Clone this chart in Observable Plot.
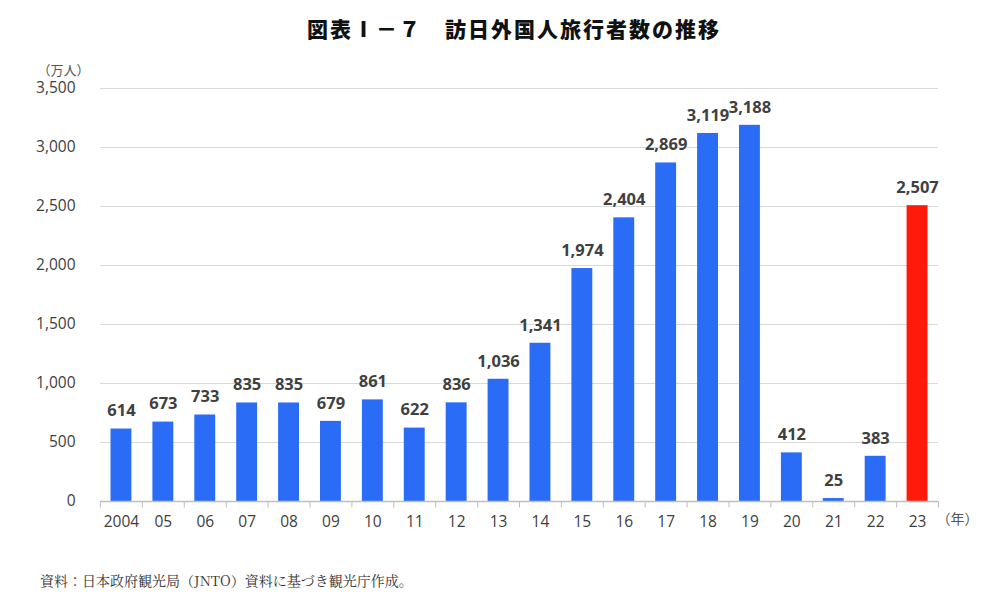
<!DOCTYPE html>
<html><head><meta charset="utf-8">
<script src="https://cdn.jsdelivr.net/npm/d3@7"></script>
<script src="https://cdn.jsdelivr.net/npm/@observablehq/plot@0.6"></script>
<style>
body{margin:0;background:#fff;font-family:"Noto Sans CJK JP","Noto Sans",sans-serif;}
#wrap{position:relative;width:1000px;height:608px;}
#title{position:absolute;left:14px;top:13px;width:1000px;text-align:center;font-size:21px;font-weight:900;color:#111;letter-spacing:2px;}
#chart{position:absolute;left:0;top:58px;}
#caption{position:absolute;left:40px;top:570px;font-family:"Noto Serif CJK JP","Noto Sans CJK JP",serif;font-size:14px;color:#333;}
</style></head>
<body><div id="wrap">
<div id="title">図表Ⅰ－７　訪日外国人旅行者数の推移</div>
<div id="chart"></div>
<div id="caption">資料：日本政府観光局（JNTO）資料に基づき観光庁作成。</div>
</div>
<script>
const years = ["2004","05","06","07","08","09","10","11","12","13","14","15","16","17","18","19","20","21","22","23"];
const visitors = [614,673,733,835,835,679,861,622,836,1036,1341,1974,2404,2869,3119,3188,412,25,383,2507];
const highlight = ["23"];
const yTicks = [0,500,1000,1500,2000,2500,3000,3500];

const data = years.map((y,i)=>({year:y, value:visitors[i], hi: highlight.includes(y)}));
const fmt = d3.format(",");
const half = (1000-100-62)/years.length/2;
const chart = Plot.plot({
  width:1000, height:500,
  marginTop:30, marginBottom:57, marginLeft:100, marginRight:62,
  style:{fontFamily:"'Open Sans', sans-serif", fontSize:"15.5px", color:"#404040", overflow:"visible"},
  x:{domain:years, padding:0, round:false, label:null, tickSize:0, tickPadding:14},
  y:{domain:[0,3500], ticks:yTicks, tickFormat:fmt, label:null, tickSize:0, tickPadding:25},
  marks:[
    Plot.gridY(yTicks.filter(t=>t>0), {stroke:"#d9d9d9", strokeOpacity:1}),
    Plot.barY(data, {x:"year", y:"value", insetLeft:10.5, insetRight:10.5, fill:d=>d.hi?"#ff1a0a":"#2b6cf6"}),
    Plot.ruleY([0], {stroke:"#bfbfbf", strokeWidth:1.5}),
    Plot.ruleX(years, {x:d=>d, y1:0, y2:-55, dx:-half, stroke:"#bfbfbf", clip:false}),
    Plot.ruleX([years[years.length-1]], {x:d=>d, y1:0, y2:-55, dx:half, stroke:"#bfbfbf", clip:false}),
    Plot.text(data, {x:"year", y:"value", text:d=>fmt(d.value), dy:-18, fontWeight:"bold", fontSize:16.5, fill:"#404040"}),
    Plot.text(["（万人）"], {frameAnchor:"top-left", dx:-63, dy:-23, fontSize:13, fill:"#555", fontFamily:"'Noto Sans CJK JP'"}),
    Plot.text(["（年）"], {frameAnchor:"bottom-right", dx:40, dy:22, fontSize:14, fill:"#555", fontFamily:"'Noto Sans CJK JP'"})
  ]
});
document.getElementById("chart").appendChild(chart);
</script>
</body></html>
